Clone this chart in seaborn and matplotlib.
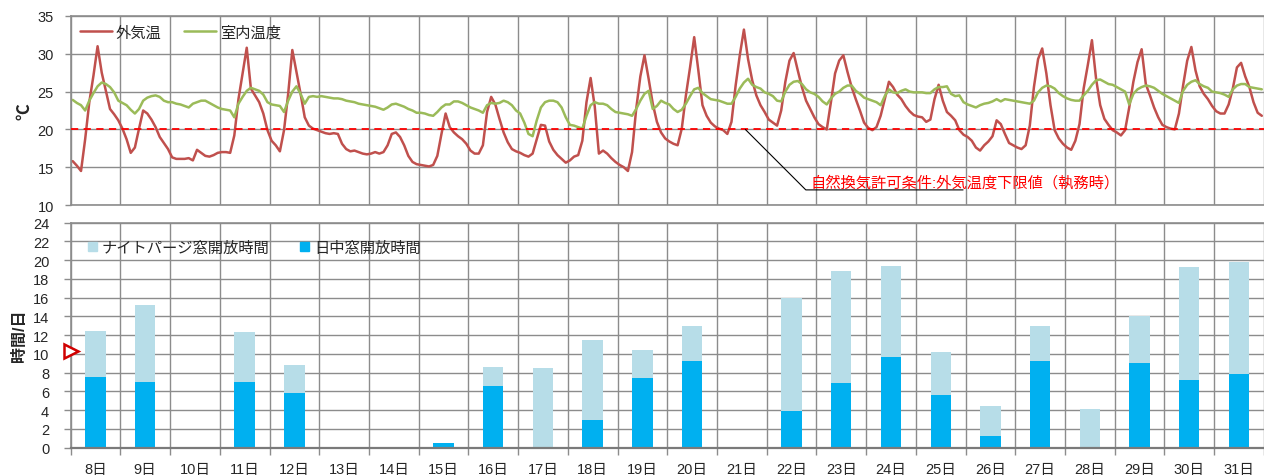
import numpy as np
import pandas as pd
import matplotlib
matplotlib.use("Agg")
import matplotlib.pyplot as plt
from matplotlib.patches import Patch
import seaborn as sns

# days shown and the hours of day each temperature value belongs to
DAYS = list(range(8, 32))
DAY_LABELS = [f"{d}日" for d in DAYS]
HOURS = list(range(1, 24, 2))

# outdoor temperature, 12 readings per day (1h, 3h, ... 23h)
OUTDOOR = [
    15.8, 15.2, 14.5, 18.7, 23.6, 27.1, 31.0, 27.5, 25.1, 22.7, 22.0, 21.2,  # 8
    20.1, 18.7, 16.9, 17.6, 20.1, 22.5, 22.1, 21.3, 20.3, 19.0, 18.2, 17.4,  # 9
    16.3, 16.1, 16.1, 16.1, 16.2, 15.9, 17.3, 16.9, 16.5, 16.4, 16.6, 16.9,  # 10
    17.0, 17.0, 16.9, 19.2, 24.0, 27.4, 30.8, 25.4, 24.5, 23.6, 22.1, 19.9,  # 11
    18.5, 17.9, 17.1, 19.9, 24.7, 30.5, 27.6, 24.7, 21.6, 20.5, 20.1, 19.9,  # 12
    19.7, 19.5, 19.4, 19.5, 19.4, 18.1, 17.4, 17.1, 17.2, 17.0, 16.8, 16.7,  # 13
    16.8, 17.0, 16.8, 17.0, 17.9, 19.4, 19.6, 19.0, 17.9, 16.5, 15.7, 15.4,  # 14
    15.3, 15.2, 15.1, 15.3, 16.5, 19.4, 22.1, 20.3, 19.6, 19.1, 18.7, 18.1,  # 15
    17.2, 16.8, 16.8, 17.9, 22.3, 24.3, 23.3, 21.4, 19.6, 18.3, 17.4, 17.1,  # 16
    16.9, 16.6, 16.4, 16.8, 18.7, 20.6, 20.5, 18.4, 17.3, 16.6, 16.1, 15.6,  # 17
    15.9, 16.4, 16.6, 18.5, 23.6, 26.8, 23.0, 16.8, 17.2, 16.8, 16.2, 15.7,  # 18
    15.3, 15.0, 14.5, 17.0, 22.7, 27.0, 29.8, 26.7, 23.4, 21.0, 19.6, 18.8,  # 19
    18.4, 18.1, 17.9, 20.1, 24.5, 28.2, 32.2, 27.8, 23.2, 21.8, 20.9, 20.4,  # 20
    20.1, 19.9, 19.4, 21.0, 25.8, 29.8, 33.2, 29.3, 26.5, 24.5, 23.2, 22.3,  # 21
    21.3, 20.9, 20.5, 22.5, 26.3, 29.1, 30.1, 27.8, 25.6, 23.8, 22.7, 21.6,  # 22
    20.7, 20.3, 20.0, 23.6, 27.4, 29.1, 29.8, 27.6, 25.6, 24.0, 22.5, 20.9,  # 23
    20.2, 19.9, 20.3, 21.8, 24.0, 26.3, 25.6, 24.6, 24.0, 23.1, 22.4, 21.9,  # 24
    21.7, 21.6, 21.0, 21.3, 24.0, 25.9, 23.8, 22.3, 21.8, 21.2, 19.9, 19.3,  # 25
    19.0, 18.5, 17.6, 17.2, 17.9, 18.4, 19.1, 21.2, 20.7, 19.4, 18.2, 17.9,  # 26
    17.6, 17.4, 17.9, 20.5, 25.6, 29.3, 30.7, 27.4, 23.2, 19.9, 18.8, 18.1,  # 27
    17.6, 17.3, 18.5, 20.7, 25.4, 28.5, 31.8, 26.7, 23.2, 21.4, 20.6, 19.9,  # 28
    19.6, 19.2, 19.9, 22.9, 26.3, 28.9, 30.6, 26.0, 24.5, 22.9, 21.6, 20.6,  # 29
    20.3, 20.1, 20.0, 22.1, 25.8, 29.1, 30.9, 27.8, 25.7, 24.7, 24.0, 23.1,  # 30
    22.4, 22.1, 22.1, 23.3, 25.4, 28.2, 28.8, 27.0, 25.6, 23.6, 22.2, 21.8,  # 31
]

# indoor temperature, same hours
INDOOR = [
    23.9, 23.5, 23.2, 22.5, 23.8, 24.8, 25.7, 26.2, 26.0, 25.6, 24.9, 23.8,  # 8
    23.5, 23.2, 22.6, 22.1, 22.7, 23.8, 24.2, 24.4, 24.5, 24.3, 23.8, 23.6,  # 9
    23.6, 23.4, 23.3, 23.1, 22.9, 23.4, 23.6, 23.8, 23.8, 23.5, 23.2, 22.9,  # 10
    22.7, 22.6, 22.5, 21.6, 23.4, 24.3, 25.1, 25.5, 25.3, 25.1, 24.6, 23.6,  # 11
    23.3, 23.2, 23.1, 22.3, 23.8, 25.0, 25.7, 24.7, 23.4, 24.3, 24.4, 24.3,  # 12
    24.4, 24.3, 24.2, 24.1, 24.1, 24.0, 23.8, 23.7, 23.6, 23.4, 23.3, 23.2,  # 13
    23.1, 23.0, 22.8, 22.6, 22.9, 23.3, 23.4, 23.2, 23.0, 22.7, 22.5, 22.2,  # 14
    22.2, 22.1, 21.9, 21.8, 22.3, 22.9, 23.3, 23.3, 23.7, 23.7, 23.5, 23.2,  # 15
    22.9, 22.7, 22.5, 22.2, 23.2, 23.5, 23.4, 23.5, 23.8, 23.6, 23.2, 22.5,  # 16
    22.1, 20.9, 19.4, 19.1, 21.2, 22.9, 23.6, 23.8, 23.8, 23.6, 22.9, 21.6,  # 17
    20.6, 20.5, 20.3, 20.1, 21.8, 23.2, 23.6, 23.4, 23.4, 23.2, 22.7, 22.3,  # 18
    22.2, 22.1, 22.0, 21.8, 22.7, 23.8, 24.7, 25.1, 22.7, 23.1, 23.8, 23.5,  # 19
    23.3, 22.7, 22.3, 22.6, 23.4, 24.4, 25.3, 25.5, 24.8, 24.4, 24.0, 23.9,  # 20
    23.8, 23.6, 23.4, 23.4, 24.3, 25.4, 26.2, 26.7, 25.9, 25.6, 25.4, 24.9,  # 21
    24.7, 24.4, 23.8, 23.7, 25.0, 25.9, 26.3, 26.4, 26.0, 25.3, 24.9, 24.7,  # 22
    24.3, 23.7, 23.3, 24.1, 24.7, 25.0, 25.5, 25.8, 25.8, 25.1, 24.7, 24.2,  # 23
    24.0, 23.8, 23.6, 23.2, 24.4, 25.3, 24.9, 24.8, 25.1, 25.3, 25.0, 24.9,  # 24
    24.9, 24.9, 24.8, 24.8, 25.3, 25.6, 25.6, 25.7, 24.7, 24.4, 24.5, 23.6,  # 25
    23.3, 23.1, 22.9, 23.2, 23.4, 23.5, 23.7, 24.0, 23.7, 24.0, 23.9, 23.8,  # 26
    23.7, 23.6, 23.5, 23.4, 23.8, 24.9, 25.5, 25.8, 25.7, 25.4, 24.8, 24.4,  # 27
    24.1, 23.9, 23.8, 23.8, 24.5, 25.1, 25.9, 26.5, 26.6, 26.3, 26.0, 25.9,  # 28
    25.6, 25.3, 25.0, 23.3, 24.7, 25.3, 25.6, 25.8, 25.7, 25.5, 25.1, 24.7,  # 29
    24.4, 24.1, 23.8, 23.5, 25.1, 25.9, 26.3, 26.5, 26.0, 25.7, 25.5, 25.0,  # 30
    24.9, 24.8, 24.6, 24.3, 25.3, 25.8, 26.0, 26.0, 25.6, 25.5, 25.4, 25.3,  # 31
]

# window opening hours per day
DAYTIME_OPEN = [7.5, 7.05, 0, 7.05, 5.8, 0, 0, 0.45, 6.6, 0, 3.0, 7.45,
                9.2, 0, 3.95, 6.85, 9.7, 5.6, 1.3, 9.2, 0, 9.0, 7.25, 7.85]
NIGHT_OPEN = [4.95, 8.15, 0, 5.25, 3.0, 0, 0, 0, 2.0, 8.55, 8.5, 3.0,
              3.8, 0, 12.05, 12.0, 9.7, 4.6, 3.1, 3.8, 4.15, 5.0, 12.05, 11.95]

LOWER_LIMIT = 20      # 外気温度下限値
MARK_HOURS = 10.3     # red triangle on the hours axis

RED = "#C0504D"
GREEN = "#9BBB59"
LIGHT = "#B7DDE8"
BLUE = "#00B0F0"
GRID = "#8C8C8C"

sns.set_theme(style="white")
plt.rcParams["font.family"] = ["Liberation Sans", "Noto Sans CJK JP"]

t = [i - 0.5 + h / 24 for i in range(len(DAYS)) for h in HOURS]
temp = pd.DataFrame({"t": t, "外気温": OUTDOOR, "室内温度": INDOOR})
hours = pd.DataFrame({
    "day": DAY_LABELS,
    "total": np.add(DAYTIME_OPEN, NIGHT_OPEN),
    "daytime": DAYTIME_OPEN,
})

fig = plt.figure(figsize=(12.64, 4.77), dpi=100)
ax1 = fig.add_axes([0.0559, 0.5681, 0.944, 0.3963])
ax2 = fig.add_axes([0.0559, 0.0593, 0.944, 0.4717])

# top: temperatures
sns.lineplot(data=temp, x="t", y="外気温", color=RED, lw=1.8, ax=ax1, label="外気温")
sns.lineplot(data=temp, x="t", y="室内温度", color=GREEN, lw=1.8, ax=ax1, label="室内温度")
ax1.axhline(LOWER_LIMIT, color="#FF0000", lw=1.3, ls=(0, (4, 3)), zorder=3)

ax1.set_xlim(-0.5, len(DAYS) - 0.5)
ax1.set_ylim(10, 35)
ax1.set_yticks(range(10, 36, 5))
ax1.set_xticks(np.arange(-0.5, len(DAYS), 1))
ax1.set_xticklabels([])
ax1.tick_params(axis="x", length=0)
ax1.tick_params(axis="y", length=4, width=1, color=GRID, pad=8, labelsize=10.5, left=True)
ax1.grid(True, color=GRID, lw=1.0)
ax1.set_xlabel("")
ax1.set_ylabel("℃", fontsize=12, fontweight="bold")
ax1.yaxis.set_label_coords(-0.032, 0.5)
ax1.legend(loc="upper left", bbox_to_anchor=(0.0, 1.0), ncol=2, frameon=False,
           fontsize=11, handlelength=2.1, handletextpad=0.25, columnspacing=1.5,
           borderaxespad=0.2)

# leader line from the limit line to the label
ax1.annotate("", xy=(13.07, LOWER_LIMIT), xytext=(17.45, 12.0),
             arrowprops=dict(arrowstyle="-", color="black", lw=0.8, shrinkA=0, shrinkB=0,
                             connectionstyle="angle,angleA=0,angleB=-45,rad=0"))
ax1.text(14.38, 13.0, "自然換気許可条件:外気温度下限値（執務時）", color="#FF0000",
         fontsize=11, va="center", ha="left")

# bottom: window opening hours (stacked)
sns.barplot(data=hours, x="day", y="total", color=LIGHT, width=0.41, saturation=1,
            errorbar=None, linewidth=0, ax=ax2)
sns.barplot(data=hours, x="day", y="daytime", color=BLUE, width=0.41, saturation=1,
            errorbar=None, linewidth=0, ax=ax2)
ax2.set_axisbelow(True)

ax2.set_xlim(-0.5, len(DAYS) - 0.5)
ax2.set_ylim(0, 24)
ax2.set_yticks(range(0, 25, 2))
ax2.set_xticks(np.arange(-0.5, len(DAYS), 1))
ax2.set_xticklabels([])
ax2.set_xticks(range(len(DAYS)), minor=True)
ax2.set_xticklabels(DAY_LABELS, minor=True)
ax2.tick_params(axis="x", which="major", length=5, width=1, color=GRID, bottom=True)
ax2.tick_params(axis="x", which="minor", length=0, pad=10.5, labelsize=10.5)
ax2.tick_params(axis="y", length=5, width=1, color=GRID, pad=10.5, labelsize=10.5, left=True)
ax2.grid(True, which="major", color=GRID, lw=1.0)
ax2.set_xlabel("")
ax2.set_ylabel("時間/日", fontsize=11.5, fontweight="bold")
ax2.yaxis.set_label_coords(-0.037, 0.5)
ax2.legend(handles=[Patch(color=LIGHT), Patch(color=BLUE)],
           labels=["ナイトパージ窓開放時間", "日中窓開放時間"],
           loc="upper left", bbox_to_anchor=(0.007, 0.96), ncol=2, frameon=False,
           fontsize=11, handlelength=0.6, handleheight=0.6, handletextpad=0.3,
           columnspacing=2.0, borderaxespad=0.2)
ax2.plot([0], [MARK_HOURS], transform=ax2.get_yaxis_transform(), marker=">", ms=10,
         mfc="white", mec="#D00000", mew=1.8, clip_on=False, zorder=5)

for ax in (ax1, ax2):
    for side, sp in ax.spines.items():
        sp.set_color(GRID)
        sp.set_linewidth(1.2)
    ax.spines["right"].set_visible(False)
ax2.spines["bottom"].set_color("#7A7A7A")
ax2.spines["bottom"].set_linewidth(1.6)

fig.savefig("out.png", dpi=100)
